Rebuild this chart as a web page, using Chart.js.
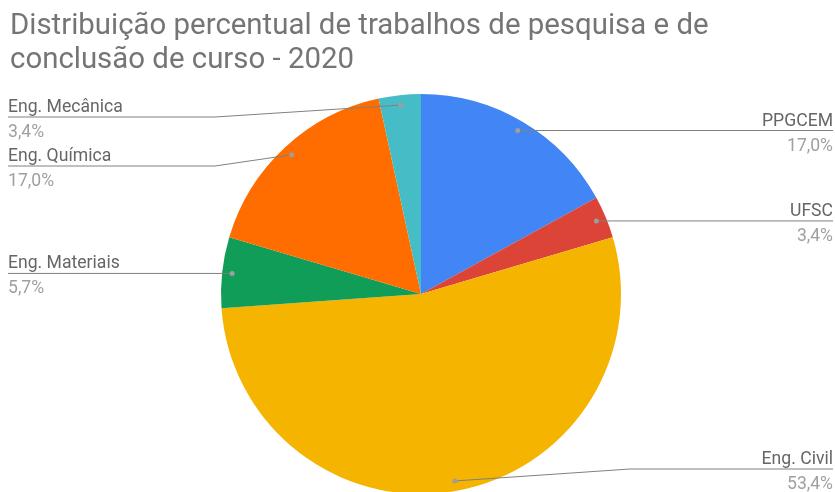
<!DOCTYPE html>
<html>
<head>
<meta charset="utf-8">
<script src="https://cdn.jsdelivr.net/npm/chart.js@4"></script>
<style>
  body { margin: 0; background: #fff; }
  #wrap { width: 835px; height: 492px; }
</style>
</head>
<body>
<div id="wrap"><canvas id="myChart" width="835" height="492"></canvas></div>
<script>
const titleLines = ["Distribuição percentual de trabalhos de pesquisa e de", "conclusão de curso - 2020"];
const categories = ["PPGCEM", "UFSC", "Eng. Civil", "Eng. Materiais", "Eng. Química", "Eng. Mecânica"];
const percentValues = [17.0, 3.4, 53.4, 5.7, 17.0, 3.4];
const sliceColors = ["#4285F4", "#DB4437", "#F4B400", "#0F9D58", "#FF6D00", "#46BDC6"];

const labelFont = "17.6px Roboto";
const pieRadius = 200;

// format like the google sheets labels: 17,0%
function fmtPct(v){
    return v.toFixed(1).replace(".", ",") + "%";
}

// draws the title and the leader lines with labels
const labelPlugin = {
    id: "sideLabels",
    afterDraw(chart){
        const ctx = chart.ctx;
        const meta = chart.getDatasetMeta(0);

        ctx.save();
        ctx.font = "29.4px Roboto";
        ctx.fillStyle = "#757575";
        ctx.textAlign = "left";
        ctx.textBaseline = "alphabetic";
        ctx.fillText(titleLines[0], 10, 34);
        ctx.fillText(titleLines[1], 10, 68);

        const minY = 117, maxY = 469, gap = 49;
        let items = meta.data.map((arc, i) => {
            const mid = (arc.startAngle + arc.endAngle) / 2;
            const r = arc.outerRadius * 0.95;
            const px = arc.x + Math.cos(mid) * r;
            const py = arc.y + Math.sin(mid) * r;
            return { i, px, py, cx: arc.x, right: Math.cos(mid) >= 0, ly: py };
        });

        // simple collision layout per side
        [true, false].forEach(side => {
            const list = items.filter(it => it.right === side).sort((a, b) => a.py - b.py);
            let prev = -Infinity;
            list.forEach(it => {
                it.ly = Math.max(it.py, minY, prev + gap);
                prev = it.ly;
            });
            for (let k = list.length - 1; k >= 0; k--) {
                const limit = k === list.length - 1 ? maxY : list[k + 1].ly - gap;
                if (list[k].ly > limit) list[k].ly = limit;
            }
        });

        items.forEach(it => {
            const endX = it.right ? 833 : 8;
            const elbowX = it.right ? it.cx + 209 : it.cx - 206;

            ctx.strokeStyle = "#808080";
            ctx.lineWidth = 1;
            ctx.beginPath();
            ctx.moveTo(it.px, it.py);
            if (Math.abs(it.ly - it.py) > 0.5) {
                ctx.lineTo(elbowX, it.ly);
            }
            ctx.lineTo(endX, it.ly);
            ctx.stroke();

            ctx.fillStyle = "#9e9e9e";
            ctx.beginPath();
            ctx.arc(it.px, it.py, 2.5, 0, Math.PI * 2);
            ctx.fill();

            ctx.font = labelFont;
            ctx.textAlign = it.right ? "right" : "left";
            ctx.fillStyle = "#666666";
            ctx.fillText(categories[it.i], endX, it.ly - 5);
            ctx.fillStyle = "#a0a0a0";
            ctx.fillText(fmtPct(percentValues[it.i]), endX, it.ly + 20);
        });
        ctx.restore();
    }
};

function start(){
    const ctx = document.getElementById("myChart").getContext("2d");
    new Chart(ctx, {
        type: "pie",
        data: {
            labels: categories,
            datasets: [{
                data: percentValues,
                backgroundColor: sliceColors,
                borderWidth: 0,
                radius: pieRadius
            }]
        },
        options: {
            responsive: false,
            animation: false,
            layout: {
                padding: { top: 96, bottom: 0, left: 207, right: 200 }
            },
            plugins: {
                legend: { display: false },
                tooltip: { enabled: false }
            }
        },
        plugins: [labelPlugin]
    });
}

window.addEventListener("load", start, false);
</script>
</body>
</html>
